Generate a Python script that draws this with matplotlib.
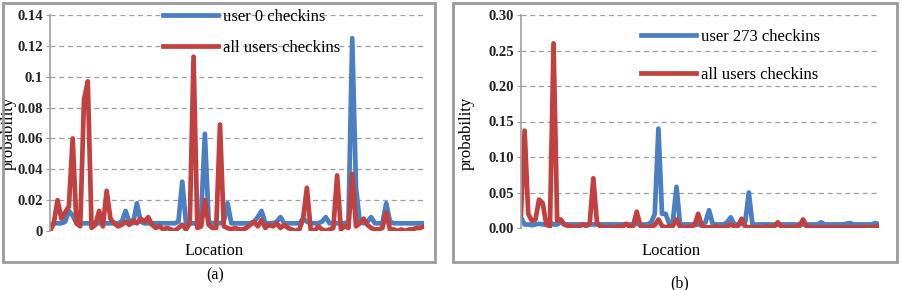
import matplotlib.pyplot as plt
from matplotlib.patches import Rectangle

plt.rcParams['font.family'] = ['Liberation Serif', 'DejaVu Serif']

# panel (a): user 0 vs all users, probability per location
user0 = [0.004, 0.005, 0.005, 0.005, 0.006, 0.013, 0.010, 0.005, 0.005, 0.005,
         0.005, 0.005, 0.005, 0.005, 0.005, 0.005, 0.005, 0.005, 0.005, 0.006,
         0.013, 0.006, 0.005, 0.018, 0.006, 0.005, 0.005, 0.005, 0.005, 0.005,
         0.005, 0.005, 0.005, 0.005, 0.006, 0.032, 0.005, 0.005, 0.005, 0.005,
         0.010, 0.063, 0.006, 0.005, 0.005, 0.005, 0.006, 0.018, 0.005, 0.005,
         0.005, 0.005, 0.005, 0.005, 0.006, 0.009, 0.013, 0.005, 0.005, 0.005,
         0.006, 0.009, 0.005, 0.005, 0.005, 0.005, 0.005, 0.008, 0.006, 0.005,
         0.005, 0.005, 0.006, 0.009, 0.005, 0.005, 0.005, 0.005, 0.005, 0.006,
         0.125, 0.028, 0.006, 0.005, 0.006, 0.009, 0.005, 0.005, 0.005, 0.018,
         0.006, 0.005, 0.005, 0.005, 0.005, 0.005, 0.005, 0.005, 0.005, 0.005]
all_a = [0.000, 0.005, 0.020, 0.008, 0.012, 0.016, 0.060, 0.005, 0.003, 0.085,
         0.097, 0.002, 0.004, 0.013, 0.003, 0.026, 0.008, 0.005, 0.003, 0.004,
         0.006, 0.004, 0.007, 0.005, 0.008, 0.006, 0.009, 0.004, 0.002, 0.003,
         0.001, 0.002, 0.001, 0.000, 0.002, 0.004, 0.001, 0.005, 0.113, 0.002,
         0.003, 0.020, 0.004, 0.002, 0.002, 0.069, 0.003, 0.002, 0.001, 0.002,
         0.001, 0.001, 0.002, 0.004, 0.006, 0.003, 0.007, 0.002, 0.004, 0.003,
         0.005, 0.002, 0.004, 0.002, 0.001, 0.000, 0.001, 0.008, 0.028, 0.001,
         0.000, 0.003, 0.001, 0.000, 0.001, 0.002, 0.036, 0.001, 0.003, 0.002,
         0.037, 0.003, 0.005, 0.008, 0.004, 0.002, 0.001, 0.001, 0.002, 0.012,
         0.001, 0.001, 0.000, 0.001, 0.000, 0.001, 0.001, 0.002, 0.002, 0.003]

# panel (b): user 273 vs all users
user273 = [0.015, 0.005, 0.005, 0.004, 0.005, 0.006, 0.005, 0.005, 0.008, 0.005,
           0.005, 0.008, 0.005, 0.005, 0.005, 0.005, 0.005, 0.005, 0.005, 0.005,
           0.005, 0.005, 0.005, 0.005, 0.005, 0.005, 0.005, 0.005, 0.005, 0.005,
           0.005, 0.005, 0.006, 0.005, 0.005, 0.005, 0.008, 0.020, 0.140, 0.020,
           0.020, 0.006, 0.010, 0.058, 0.005, 0.005, 0.005, 0.005, 0.005, 0.005,
           0.005, 0.008, 0.025, 0.006, 0.005, 0.005, 0.005, 0.008, 0.015, 0.005,
           0.005, 0.006, 0.008, 0.050, 0.005, 0.005, 0.005, 0.005, 0.005, 0.005,
           0.005, 0.005, 0.005, 0.005, 0.005, 0.005, 0.005, 0.005, 0.005, 0.005,
           0.005, 0.005, 0.005, 0.008, 0.005, 0.005, 0.005, 0.005, 0.005, 0.005,
           0.006, 0.007, 0.005, 0.005, 0.005, 0.005, 0.005, 0.005, 0.007, 0.005]
all_b = [0.020, 0.137, 0.020, 0.010, 0.012, 0.040, 0.035, 0.005, 0.002, 0.260,
         0.010, 0.012, 0.005, 0.003, 0.002, 0.001, 0.002, 0.005, 0.003, 0.006,
         0.070, 0.008, 0.002, 0.001, 0.001, 0.001, 0.001, 0.002, 0.001, 0.006,
         0.002, 0.003, 0.023, 0.003, 0.001, 0.001, 0.002, 0.004, 0.012, 0.003,
         0.001, 0.002, 0.003, 0.012, 0.002, 0.001, 0.001, 0.002, 0.004, 0.020,
         0.003, 0.001, 0.001, 0.001, 0.002, 0.001, 0.001, 0.002, 0.005, 0.002,
         0.003, 0.013, 0.002, 0.001, 0.001, 0.001, 0.001, 0.001, 0.002, 0.001,
         0.002, 0.008, 0.002, 0.001, 0.001, 0.001, 0.002, 0.003, 0.012, 0.002,
         0.001, 0.001, 0.001, 0.001, 0.001, 0.001, 0.001, 0.001, 0.001, 0.001,
         0.001, 0.001, 0.001, 0.001, 0.001, 0.001, 0.001, 0.001, 0.002, 0.002]

ticks_a = [0, 0.02, 0.04, 0.06, 0.08, 0.1, 0.12, 0.14]
ticklabels_a = ['0', '0.02', '0.04', '0.06', '0.08', '0.1', '0.12', '0.14']
ticks_b = [0, 0.05, 0.10, 0.15, 0.20, 0.25, 0.30]
ticklabels_b = ['0.00', '0.05', '0.10', '0.15', '0.20', '0.25', '0.30']

blue = '#4a7fc1'
red = '#c0413f'

fig = plt.figure(figsize=(9.03, 2.90), dpi=100)

# grey frames around each panel
for x0, w in [(3, 432), (453, 444)]:
    fig.patches.append(Rectangle((x0 / 903, 1 - 262 / 290), w / 903, 259 / 290,
                                 transform=fig.transFigure, fill=False,
                                 edgecolor='#9a9a9a', linewidth=2))

def panel(rect, user, allu, ulabel, ticks, labels, ymax, legend_pos, spacing,
          ylab_xy, xlab_xy):
    ax = fig.add_axes(rect)
    x = list(range(len(user)))
    ax.plot(x, user, color=blue, lw=3.4, label=ulabel, solid_joinstyle='round')
    ax.plot(x, allu, color=red, lw=3.4, label='all users checkins',
            solid_joinstyle='round')
    ax.set_xlim(0, len(user) - 1)
    ax.set_ylim(0, ymax)
    ax.set_yticks(ticks)
    ax.set_yticklabels(labels, fontsize=10.5, fontweight='bold', color='#222222')
    ax.set_xticks([])
    ax.grid(axis='y', ls=(0, (4, 3)), color='#9d9d9d', lw=0.9)
    ax.set_axisbelow(True)
    for s in ['top', 'right', 'bottom']:
        ax.spines[s].set_visible(False)
    ax.spines['left'].set_color('#a0a0a0')
    ax.spines['left'].set_linewidth(1.2)
    ax.tick_params(axis='y', length=3, color='#a0a0a0', pad=2)
    ax.set_ylabel('probability', fontsize=12)
    ax.yaxis.set_label_coords(*ylab_xy)
    ax.set_xlabel('Location', fontsize=12)
    ax.xaxis.set_label_coords(*xlab_xy)
    ax.legend(loc='upper left', bbox_to_anchor=legend_pos, frameon=False,
              fontsize=12, handlelength=3.3, handletextpad=0.3,
              labelspacing=spacing, borderpad=0)
    return ax

panel([50 / 903, 1 - 231 / 290, 374 / 903, 216 / 290], user0, all_a,
      'user 0 checkins', ticks_a, ticklabels_a, 0.14, (0.279, 1.067), 0.9,
      (-0.089, 0.454), (0.4385, -0.055))
panel([521 / 903, 1 - 228 / 290, 358 / 903, 213 / 290], user273, all_b,
      'user 273 checkins', ticks_b, ticklabels_b, 0.30, (0.313, 0.972), 1.28,
      (-0.128, 0.446), (0.419, -0.07))

fig.text(215 / 903, 1 - 275 / 290, '(a)', ha='center', va='center', fontsize=11.5)
fig.text(680 / 903, 1 - 283 / 290, '(b)', ha='center', va='center', fontsize=11.5)

fig.savefig('out.png', dpi=100)
